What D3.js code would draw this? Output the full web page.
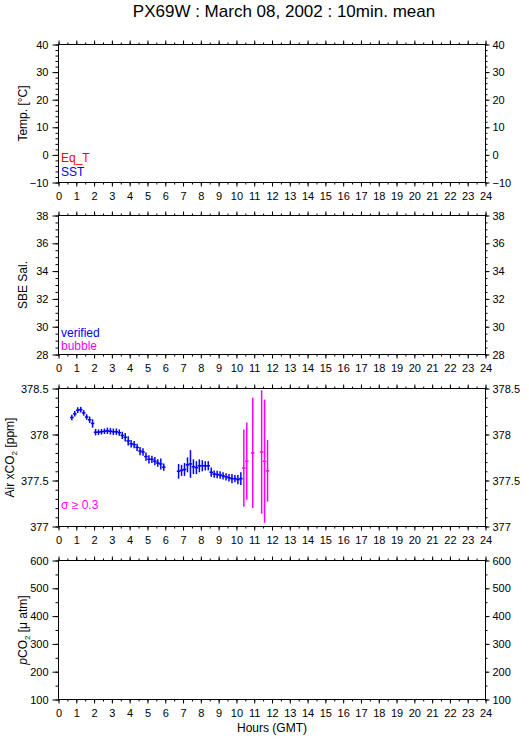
<!DOCTYPE html>
<html>
<head>
<meta charset="utf-8">
<script src="https://cdn.jsdelivr.net/npm/d3@7"></script>
<style>
  body { margin: 0; background: #fff; }
  svg text { font-family: "Liberation Sans", Arial, Helvetica, sans-serif; }
</style>
</head>
<body>
<div id="graph"></div>
<script>
//constantes
const w = 529;
const h = 739;
const left = 58.5;
const right = 485.5;

// données : heures (GMT), xCO2 air [ppm], écart-type
const co2Time = [0.75, 0.917, 1.083, 1.25, 1.417, 1.583, 1.75, 1.917, 2.083, 2.25, 2.417, 2.583,
  2.75, 2.917, 3.083, 3.25, 3.417, 3.583, 3.75, 3.917, 4.083, 4.25, 4.417, 4.583, 4.75, 4.917,
  5.083, 5.25, 5.417, 5.583, 5.75, 5.917,
  6.75, 6.917, 7.083, 7.25, 7.417, 7.583, 7.75, 7.917, 8.083, 8.25, 8.417, 8.583, 8.75, 8.917,
  9.083, 9.25, 9.417, 9.583, 9.75, 9.917, 10.083, 10.25,
  10.417, 10.583, 10.917, 11.417, 11.583, 11.75];
const co2Value = [378.185, 378.225, 378.265, 378.27, 378.235, 378.19, 378.16, 378.12, 378.025, 378.025, 378.03, 378.035,
  378.04, 378.035, 378.03, 378.03, 378.02, 377.99, 377.97, 377.93, 377.9, 377.89, 377.86, 377.82, 377.81, 377.76,
  377.73, 377.73, 377.71, 377.69, 377.68, 377.645,
  377.60, 377.61, 377.62, 377.67, 377.68, 377.65, 377.64, 377.66, 377.66, 377.66, 377.66, 377.59, 377.57, 377.565,
  377.56, 377.55, 377.54, 377.53, 377.52, 377.52, 377.51, 377.52,
  377.635, 377.71, 377.80, 377.81, 377.71, 377.605];
const co2Sigma = [0.03, 0.03, 0.03, 0.03, 0.03, 0.03, 0.035, 0.045, 0.035, 0.03, 0.03, 0.03,
  0.035, 0.035, 0.035, 0.035, 0.035, 0.04, 0.045, 0.05, 0.04, 0.04, 0.04, 0.045, 0.04, 0.045,
  0.045, 0.04, 0.045, 0.04, 0.06, 0.04,
  0.08, 0.06, 0.07, 0.08, 0.15, 0.08, 0.07, 0.07, 0.06, 0.05, 0.05, 0.05, 0.04, 0.04,
  0.04, 0.04, 0.04, 0.04, 0.05, 0.04, 0.05, 0.07,
  0.42, 0.42, 0.60, 0.67, 0.67, 0.335];
const sigmaLimit = 0.3;

// axes des panneaux
const yDomains = [[-10, 40], [28, 38], [377, 378.5], [100, 600]];
const yMajor = [10, 2, 0.5, 100];
const yMinor = [2, 0.5, 0.1, 50];
const hourTicks = [0, 1, 2, 3, 4, 5, 6, 7, 8, 9, 10, 11, 12, 13, 14, 15, 16, 17, 18, 19, 20, 21, 22, 23, 24];

// position des panneaux
const panels = [
  {top: 44.5, bottom: 182.5},
  {top: 215.5, bottom: 354.5},
  {top: 388.5, bottom: 526.5},
  {top: 560.5, bottom: 699.5}
];

//création du svg
const svg = d3.select("#graph")
  .append("svg")
  .attr("width", w)
  .attr("height", h);

svg.append("text")
  .attr("x", 284)
  .attr("y", 17)
  .attr("text-anchor", "middle")
  .attr("font-size", "17px")
  .text("PX69W : March 08, 2002 : 10min. mean");

const xScale = d3.scaleLinear().domain([0, 24]).range([left, right]);
const halfHours = d3.range(0, 24.01, 0.5);

const yScales = [];

panels.forEach((p, i) => {
  const y = d3.scaleLinear().domain(yDomains[i]).range([p.bottom, p.top]);
  yScales.push(y);
  const g = svg.append("g");

  const labelFmt = v => i == 2 ? d3.format("~g")(v) : d3.format("d")(v);
  const nMaj = Math.round((yDomains[i][1] - yDomains[i][0]) / yMajor[i]);
  const nMin = Math.round((yDomains[i][1] - yDomains[i][0]) / yMinor[i]);
  const majVals = d3.range(nMaj + 1).map(k => +(yDomains[i][0] + k * yMajor[i]).toFixed(3));
  const minVals = d3.range(nMin + 1).map(k => +(yDomains[i][0] + k * yMinor[i]).toFixed(3));

  // axe gauche
  g.append("g")
    .attr("transform", "translate(" + left + ",0)")
    .call(d3.axisLeft(y).tickValues(minVals).tickSize(3).tickFormat(""));
  g.append("g")
    .attr("transform", "translate(" + left + ",0)")
    .call(d3.axisLeft(y).tickValues(majVals).tickSize(6).tickPadding(4).tickFormat(labelFmt));

  // axe droit
  g.append("g")
    .attr("transform", "translate(" + right + ",0)")
    .call(d3.axisRight(y).tickValues(minVals).tickSize(2).tickFormat(""));
  g.append("g")
    .attr("transform", "translate(" + right + ",0)")
    .call(d3.axisRight(y).tickValues(majVals).tickSize(4).tickPadding(3).tickFormat(labelFmt));

  // axe haut
  g.append("g")
    .attr("transform", "translate(0," + p.top + ")")
    .call(d3.axisTop(xScale).tickValues(halfHours).tickSize(2).tickFormat(""));
  g.append("g")
    .attr("transform", "translate(0," + p.top + ")")
    .call(d3.axisTop(xScale).tickValues(hourTicks).tickSize(4).tickFormat(""));

  // axe bas
  g.append("g")
    .attr("transform", "translate(0," + p.bottom + ")")
    .call(d3.axisBottom(xScale).tickValues(halfHours).tickSize(2).tickFormat(""));
  g.append("g")
    .attr("transform", "translate(0," + p.bottom + ")")
    .call(d3.axisBottom(xScale).tickValues(hourTicks).tickSize(4).tickPadding(6).tickFormat(d3.format("d")));

  g.selectAll(".domain").remove();
  g.selectAll("text").attr("font-size", "11px").attr("font-family", "Liberation Sans, Arial, sans-serif").attr("fill", "#000");
  g.selectAll("line").attr("stroke", "#000");

  // cadre
  g.append("rect")
    .attr("x", left)
    .attr("y", p.top)
    .attr("width", right - left)
    .attr("height", p.bottom - p.top)
    .attr("fill", "none")
    .attr("stroke", "#000")
    .attr("stroke-width", 1);
});

// titres des axes y
const yTitles = [
  {t: ["Temp. [°C]"]},
  {t: ["SBE Sal."]},
  {t: ["Air xCO", "2", " [ppm]"]},
  {t: ["pCO", "2", " [μ atm]"]}
];
yTitles.forEach((d, i) => {
  const p = panels[i];
  const cy = (p.top + p.bottom) / 2;
  const tx = svg.append("text")
    .attr("transform", "translate(" + (i == 2 ? 14 : 27) + "," + cy + ") rotate(-90)")
    .attr("text-anchor", "middle")
    .attr("font-size", "12px");
  if (d.t.length == 1) {
    tx.text(d.t[0]);
  } else {
    if (i == 3) {
      tx.append("tspan").attr("font-style", "italic").text("p");
      tx.append("tspan").text(d.t[0].slice(1));
    } else {
      tx.append("tspan").text(d.t[0]);
    }
    tx.append("tspan").attr("font-size", "8px").attr("dy", 3).text(d.t[1]);
    tx.append("tspan").attr("dy", -3).text(d.t[2]);
  }
});

// légendes
const legends = [
  {panel: 0, text: "Eq_T", color: "#ff0000", dy: -21},
  {panel: 0, text: "SST", color: "#0000ff", dy: -7},
  {panel: 1, text: "verified", color: "#0000ff", dy: -18},
  {panel: 1, text: "bubble", color: "#ff00ff", dy: -5},
  {panel: 2, text: "σ ≥ 0.3", color: "#ff00ff", dy: -18}
];
svg.selectAll(".legende")
  .data(legends)
  .enter()
  .append("text")
  .attr("class", "legende")
  .attr("x", 61)
  .attr("y", d => panels[d.panel].bottom + d.dy)
  .attr("font-size", "12px")
  .attr("fill", d => d.color)
  .text(d => d.text);

svg.append("text")
  .attr("x", (left + right) / 2)
  .attr("y", 732)
  .attr("text-anchor", "middle")
  .attr("font-size", "12px")
  .text("Hours (GMT)");

// points xCO2 avec barres d'erreur
const yCO2 = yScales[2];
const pts = co2Time.map((t, k) => ({t: t, v: co2Value[k], s: co2Sigma[k]}));
const colorPt = d => d.s >= sigmaLimit ? "#ff00ff" : "#0000ff";

const gp = svg.append("g");
gp.selectAll(".barre")
  .data(pts)
  .enter()
  .append("line")
  .attr("class", "barre")
  .attr("x1", d => xScale(d.t))
  .attr("x2", d => xScale(d.t))
  .attr("y1", d => yCO2(d.v - d.s))
  .attr("y2", d => yCO2(d.v + d.s))
  .attr("stroke", colorPt)
  .attr("stroke-width", 1.5);

gp.selectAll(".trait")
  .data(pts)
  .enter()
  .append("line")
  .attr("class", "trait")
  .attr("x1", d => xScale(d.t - 0.1))
  .attr("x2", d => xScale(d.t + 0.1))
  .attr("y1", d => yCO2(d.v))
  .attr("y2", d => yCO2(d.v))
  .attr("stroke", colorPt)
  .attr("stroke-width", 1.5);
</script>
</body>
</html>
